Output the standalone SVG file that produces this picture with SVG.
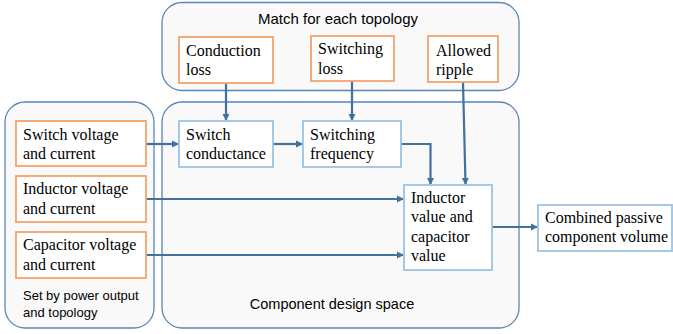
<svg xmlns="http://www.w3.org/2000/svg" width="673" height="334" viewBox="0 0 673 334">
<style>
.cont{fill:#f9f9f9;stroke:#5a86b5;stroke-width:1.3}
.or{fill:#ffffff;stroke:#f4a36b;stroke-width:1.8}
.bl{fill:#ffffff;stroke:#9dc3e6;stroke-width:1.8}
.t{font-family:"Liberation Serif","Times New Roman",serif;font-size:16px;fill:#000}
.s{font-family:"Liberation Sans",Arial,sans-serif;font-size:14px;fill:#000}
.c{fill:none;stroke:#41719c;stroke-width:2.2}
</style>
<defs>
<marker id="ah" markerWidth="8" markerHeight="8" refX="6" refY="4" orient="auto" markerUnits="userSpaceOnUse">
<path d="M0,0.5 L7,4 L0,7.5 Z" fill="#41719c"/>
</marker>
</defs>
<g id="top-container">
<rect class="cont" x="162" y="2.5" width="357" height="88" rx="20"/>
<text class="s" x="338" y="24" text-anchor="middle" style="font-size:15px">Match for each topology</text>
</g>
<g id="left-container">
<rect class="cont" x="5" y="102" width="149" height="226" rx="20"/>
<text class="s" x="23" y="300" style="font-size:13px">Set by power output</text>
<text class="s" x="23" y="317" style="font-size:13px">and topology</text>
</g>
<g id="main-container">
<rect class="cont" x="162" y="102" width="357" height="226" rx="20"/>
<text class="s" x="332" y="309" text-anchor="middle" style="font-size:14.5px">Component design space</text>
</g>
<g id="connectors">
<line class="c" x1="226" y1="83" x2="226" y2="120" marker-end="url(#ah)"/>
<line class="c" x1="352" y1="81" x2="352" y2="120" marker-end="url(#ah)"/>
<line class="c" x1="463" y1="82" x2="465.5" y2="184" marker-end="url(#ah)"/>
<line class="c" x1="146" y1="144" x2="178" y2="144" marker-end="url(#ah)"/>
<line class="c" x1="273" y1="144" x2="302" y2="144" marker-end="url(#ah)"/>
<polyline class="c" points="401,144 430.5,144 430.5,184" marker-end="url(#ah)"/>
<line class="c" x1="146" y1="199" x2="403" y2="199" marker-end="url(#ah)"/>
<line class="c" x1="146" y1="255" x2="403" y2="255" marker-end="url(#ah)"/>
<line class="c" x1="492" y1="227" x2="537" y2="227" marker-end="url(#ah)"/>
</g>
<g id="conduction-loss">
<rect class="or" x="179" y="37" width="94" height="46"/>
<text class="t" x="186" y="56">Conduction</text>
<text class="t" x="186" y="75">loss</text>
</g>
<g id="switching-loss">
<rect class="or" x="311" y="36" width="83" height="45"/>
<text class="t" x="318" y="54">Switching</text>
<text class="t" x="318" y="74">loss</text>
</g>
<g id="allowed-ripple">
<rect class="or" x="428" y="36" width="70" height="46"/>
<text class="t" x="436" y="56">Allowed</text>
<text class="t" x="436" y="75">ripple</text>
</g>
<g id="switch-voltage">
<rect class="or" x="16" y="121" width="130" height="45"/>
<text class="t" x="23" y="140">Switch voltage</text>
<text class="t" x="23" y="159">and current</text>
</g>
<g id="inductor-voltage">
<rect class="or" x="16" y="176" width="130" height="46"/>
<text class="t" x="23" y="194">Inductor voltage</text>
<text class="t" x="23" y="214">and current</text>
</g>
<g id="capacitor-voltage">
<rect class="or" x="16" y="232" width="130" height="46"/>
<text class="t" x="23" y="250">Capacitor voltage</text>
<text class="t" x="23" y="270">and current</text>
</g>
<g id="switch-conductance">
<rect class="bl" x="179" y="121" width="94" height="46"/>
<text class="t" x="186" y="140">Switch</text>
<text class="t" x="186" y="159">conductance</text>
</g>
<g id="switching-frequency">
<rect class="bl" x="303" y="121" width="98" height="46"/>
<text class="t" x="310" y="140">Switching</text>
<text class="t" x="310" y="159">frequency</text>
</g>
<g id="inductor-capacitor-value">
<rect class="bl" x="404" y="185" width="88" height="85"/>
<text class="t" x="411" y="203">Inductor</text>
<text class="t" x="411" y="222">value and</text>
<text class="t" x="411" y="242">capacitor</text>
<text class="t" x="411" y="261">value</text>
</g>
<g id="combined-volume">
<rect class="bl" x="538" y="205" width="134" height="46"/>
<text class="t" x="545" y="223">Combined passive</text>
<text class="t" x="545" y="242">component volume</text>
</g>
</svg>
